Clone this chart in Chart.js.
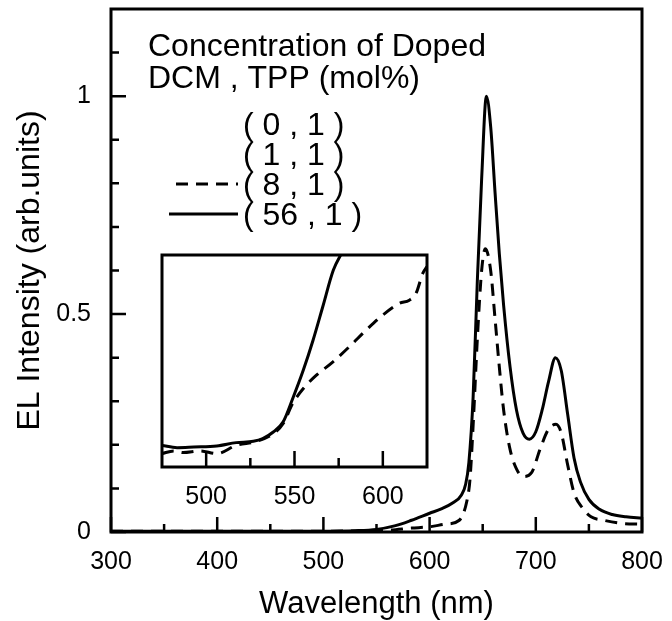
<!DOCTYPE html>
<html>
<head>
<meta charset="utf-8">
<script src="https://cdn.jsdelivr.net/npm/chart.js@4.4.1/dist/chart.umd.min.js"></script>
<style>
  body { margin: 0; background: #fff; }
  #wrap { position: relative; width: 672px; height: 621px; }
  #mainChart { position: absolute; left: 0; top: 0; }
  #insetChart { position: absolute; left: 130px; top: 245px; }
</style>
</head>
<body>
<div id="wrap">
  <canvas id="mainChart" width="672" height="621"></canvas>
  <canvas id="insetChart" width="330" height="280"></canvas>
</div>
<script>
// main spectrum, DCM 56 mol% (solid)
const wl56 = [300, 350, 400, 450, 500, 530, 550, 567, 583, 600, 611, 622, 630, 634, 637, 641, 645, 649, 653.5,
              657.5, 661.6, 665.6, 669.7, 675.7, 681.8, 688, 694, 700, 706, 712, 718.5, 724, 730, 736, 742, 750,
              760, 772, 785, 800];
const int56 = [0.002, 0.002, 0.002, 0.002, 0.002, 0.003, 0.006, 0.014, 0.027, 0.043, 0.053, 0.067, 0.085, 0.11,
               0.16, 0.31, 0.58, 0.81, 1.0, 0.93, 0.78, 0.64, 0.52, 0.38, 0.28, 0.227, 0.213, 0.23, 0.28, 0.345,
               0.40, 0.37, 0.27, 0.17, 0.115, 0.075, 0.052, 0.04, 0.035, 0.032];

// main spectrum, DCM 8 mol% (dashed)
const wl8 = [300, 400, 500, 560, 583, 600, 615, 628, 635, 638, 641, 645, 649, 652.5, 657.5, 661.6, 665.6, 669.7,
             675.7, 681.8, 688, 696, 704, 712, 719, 724, 730, 736, 744, 752, 764, 780, 800];
const int8 = [0.002, 0.002, 0.002, 0.004, 0.009, 0.012, 0.018, 0.027, 0.07, 0.12, 0.245, 0.445, 0.6, 0.65, 0.6,
              0.49, 0.38, 0.28, 0.19, 0.145, 0.127, 0.136, 0.19, 0.236, 0.247, 0.227, 0.154, 0.09, 0.055, 0.035,
              0.027, 0.02, 0.018];

// inset (blue region, relative scale)
const insetWl = [475, 483.5, 493, 506, 517, 526.7, 532, 538, 543.6, 549, 555, 560.5, 566, 572, 577.4];
const insetSolid = [0.102, 0.091, 0.094, 0.099, 0.115, 0.121, 0.134, 0.165, 0.213, 0.323, 0.457, 0.598, 0.756,
                    0.929, 1.02];
const insetWl8 = [475, 481.6, 487, 496.6, 506, 517, 528.6, 538, 543.6, 549, 555, 562.4, 571.8, 581, 590.6, 600,
                  609.4, 615, 618.8, 622.6, 625];
const insetDashed = [0.063, 0.076, 0.068, 0.076, 0.063, 0.102, 0.121, 0.157, 0.205, 0.30, 0.37, 0.433, 0.496,
                     0.567, 0.646, 0.717, 0.772, 0.787, 0.819, 0.913, 0.945];

// ticks
const xMajor = [300, 400, 500, 600, 700, 800];
const xMinor = [350, 450, 550, 650, 750];
const yMajor = [0, 0.5, 1];
const yLabels = ['0', '0.5', '1'];
const yMinor = [0.1, 0.2, 0.3, 0.4, 0.6, 0.7, 0.8, 0.9, 1.1];
const insetMajor = [500, 550, 600];
const insetMinor = [525, 575];

const legendTitle = ['Concentration of Doped', 'DCM , TPP (mol%)'];
const legendRows = ['( 0 , 1 )', '( 1 , 1 )', '( 8 , 1 )', '( 56 , 1 )'];
const legendStyle = [null, null, 'dash', 'solid'];

const FONT = "'Liberation Sans', Arial, Helvetica, sans-serif";
const DASH = [12, 8];

function toPoints(xs, ys) {
  return xs.map((x, i) => ({ x: x, y: ys[i] }));
}

// frame and inward tick marks
const frameTicks = {
  id: 'frameTicks',
  afterDatasetsDraw(chart, args, opts) {
    const ctx = chart.ctx;
    const a = chart.chartArea;
    const sx = chart.scales.x, sy = chart.scales.y;
    ctx.save();
    ctx.strokeStyle = '#000';
    ctx.lineWidth = opts.width;
    ctx.lineCap = 'butt';
    ctx.beginPath();
    (opts.xMajor || []).forEach(v => {
      const p = sx.getPixelForValue(v);
      ctx.moveTo(p, a.bottom); ctx.lineTo(p, a.bottom - opts.major);
    });
    (opts.xMinor || []).forEach(v => {
      const p = sx.getPixelForValue(v);
      ctx.moveTo(p, a.bottom); ctx.lineTo(p, a.bottom - opts.minor);
    });
    (opts.yMajor || []).forEach(v => {
      const p = sy.getPixelForValue(v);
      ctx.moveTo(a.left, p); ctx.lineTo(a.left + opts.major, p);
    });
    (opts.yMinor || []).forEach(v => {
      const p = sy.getPixelForValue(v);
      ctx.moveTo(a.left, p); ctx.lineTo(a.left + opts.minor, p);
    });
    ctx.stroke();
    ctx.lineWidth = opts.frame;
    ctx.strokeRect(a.left, a.top, a.right - a.left, a.bottom - a.top);
    ctx.restore();
  }
};

// text legend in the upper left
const legendText = {
  id: 'legendText',
  afterDraw(chart) {
    const ctx = chart.ctx;
    ctx.save();
    ctx.fillStyle = '#000';
    ctx.font = '32px ' + FONT;
    ctx.textBaseline = 'middle';
    ctx.textAlign = 'left';
    ctx.fillText(legendTitle[0], 148, 47);
    ctx.fillText(legendTitle[1], 148, 79);
    legendRows.forEach((t, i) => {
      const y = 126 + i * 30;
      ctx.fillText(t, 243, y);
      if (legendStyle[i]) {
        ctx.beginPath();
        ctx.lineWidth = 3;
        ctx.strokeStyle = '#000';
        ctx.setLineDash(legendStyle[i] === 'dash' ? DASH : []);
        ctx.moveTo(legendStyle[i] === 'dash' ? 176 : 169, y - 2);
        ctx.lineTo(238, y - 2);
        ctx.stroke();
      }
    });
    ctx.restore();
  }
};

const lineStyle = {
  borderColor: '#000',
  borderWidth: 3,
  pointRadius: 0,
  fill: false,
  cubicInterpolationMode: 'monotone'
};

// keep the plot box where the reference has it: no extra label padding
function noPadX(h) {
  return s => { s.height = h; s.paddingLeft = 0; s.paddingRight = 0; };
}
function noPadY(w) {
  return s => { s.width = w; s.paddingTop = 0; s.paddingBottom = 0; };
}

new Chart(document.getElementById('mainChart'), {
  type: 'line',
  data: {
    datasets: [
      { label: '( 56 , 1 )', data: toPoints(wl56, int56), ...lineStyle },
      { label: '( 8 , 1 )', data: toPoints(wl8, int8), ...lineStyle, borderDash: DASH }
    ]
  },
  options: {
    responsive: false,
    animation: false,
    layout: { padding: { left: 0, right: 30, top: 9, bottom: 0 } },
    plugins: {
      legend: { display: false },
      tooltip: { enabled: false },
      frameTicks: { xMajor: xMajor, xMinor: xMinor, yMajor: yMajor, yMinor: yMinor, major: 15, minor: 8, width: 2.5, frame: 3 }
    },
    scales: {
      x: {
        type: 'linear', min: 300, max: 800,
        grid: { display: false, drawTicks: false },
        border: { display: false },
        afterBuildTicks: s => { s.ticks = xMajor.map(v => ({ value: v })); },
        afterFit: noPadX(89),
        ticks: { color: '#000', font: { family: FONT, size: 25 }, padding: 15, maxRotation: 0, autoSkip: false },
        title: { display: true, text: 'Wavelength (nm)', color: '#000', font: { family: FONT, size: 31, lineHeight: 1 }, padding: { top: 0, bottom: 1 } }
      },
      y: {
        min: 0, max: 1.2,
        grid: { display: false, drawTicks: false },
        border: { display: false },
        afterBuildTicks: s => { s.ticks = yMajor.map(v => ({ value: v })); },
        afterFit: noPadY(111),
        ticks: { color: '#000', font: { family: FONT, size: 25 }, padding: 20, callback: (v, i) => yLabels[i] },
        title: { display: true, text: 'EL Intensity (arb.units)', color: '#000', font: { family: FONT, size: 32, lineHeight: 1 }, padding: { top: 14, bottom: 0 } }
      }
    }
  },
  plugins: [frameTicks, legendText]
});

new Chart(document.getElementById('insetChart'), {
  type: 'line',
  data: {
    datasets: [
      { label: '( 56 , 1 )', data: toPoints(insetWl, insetSolid), ...lineStyle },
      { label: '( 8 , 1 )', data: toPoints(insetWl8, insetDashed), ...lineStyle, borderDash: DASH }
    ]
  },
  options: {
    responsive: false,
    animation: false,
    layout: { padding: { left: 32, right: 33, top: 10, bottom: 0 } },
    plugins: {
      legend: { display: false },
      tooltip: { enabled: false },
      frameTicks: { xMajor: insetMajor, xMinor: insetMinor, major: 16, minor: 9, width: 2.5, frame: 3 }
    },
    scales: {
      x: {
        type: 'linear', min: 475, max: 625,
        grid: { display: false, drawTicks: false },
        border: { display: false },
        afterBuildTicks: s => { s.ticks = insetMajor.map(v => ({ value: v })); },
        afterFit: noPadX(58),
        ticks: { color: '#000', font: { family: FONT, size: 25 }, padding: 15, maxRotation: 0, autoSkip: false }
      },
      y: { min: 0, max: 1, display: false }
    }
  },
  plugins: [frameTicks]
});
</script>
</body>
</html>
